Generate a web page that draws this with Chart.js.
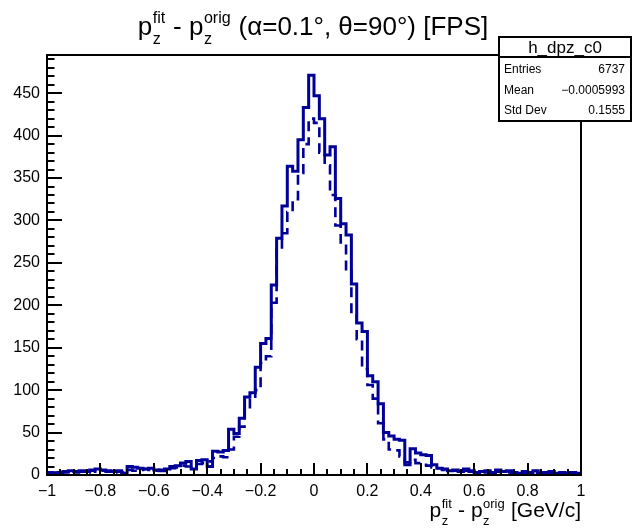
<!DOCTYPE html>
<html>
<head>
<meta charset="utf-8">
<title>h_dpz_c0</title>
<script src="https://cdn.jsdelivr.net/npm/chart.js@4.4.0/dist/chart.umd.min.js"></script>
<style>
  html, body { margin: 0; padding: 0; background: #ffffff; }
  #wrap { width: 635px; height: 529px; }
</style>
</head>
<body>
<div id="wrap"><canvas id="c" width="635" height="529"></canvas></div>
<script>
// Histogram binning: 100 bins over [-1, 1]
const binLow = -1;
const binWidth = 0.02;
const nBins = 100;

// Bin contents, solid histogram
const solidCounts = [
  3, 2, 3, 4, 5, 4, 5, 4, 6, 7,
  6, 5, 4, 5, 2, 10, 9, 8, 7, 8,
  6, 5, 7, 10, 11, 14, 16, 7, 17, 18,
  10, 28, 27, 29, 54, 49, 67, 92, 97, 127,
  155, 161, 224, 279, 317, 364, 358, 395, 433, 471,
  447, 420, 377, 387, 326, 296, 283, 225, 179, 169,
  117, 110, 84, 50, 46, 42, 41, 12, 31, 26,
  24, 23, 12, 8, 7, 5, 6, 4, 7, 5,
  3, 4, 5, 3, 6, 4, 5, 3, 2, 4,
  3, 5, 2, 3, 4, 2, 3, 2, 3, 2
];

// Bin contents, dashed histogram
const dashedCounts = [
  2, 3, 2, 3, 4, 3, 4, 3, 5, 4,
  5, 4, 3, 4, 3, 6, 5, 6, 7, 6,
  5, 6, 7, 8, 9, 11, 10, 12, 13, 14,
  16, 20, 22, 21, 30, 45, 57, 76, 90, 100,
  132, 140, 203, 265, 285, 310, 325, 356, 390, 420,
  415, 380, 365, 330, 294, 274, 240, 190, 160, 125,
  106, 90, 61, 42, 30, 29, 22, 15, 18, 14,
  12, 11, 9, 8, 6, 5, 5, 4, 5, 4,
  3, 4, 3, 3, 4, 3, 3, 2, 3, 2,
  3, 2, 2, 3, 2, 2, 1, 2, 2, 1
];

// Axis ticks and labels
const xTickValues = [-1, -0.8, -0.6, -0.4, -0.2, 0, 0.2, 0.4, 0.6, 0.8, 1];
const xTickLabels = ['\u22121', '\u22120.8', '\u22120.6', '\u22120.4', '\u22120.2', '0', '0.2', '0.4', '0.6', '0.8', '1'];
const yTickValues = [0, 50, 100, 150, 200, 250, 300, 350, 400, 450];
const yTickLabels = ['0', '50', '100', '150', '200', '250', '300', '350', '400', '450'];
const xMinorStep = 0.05;
const yMinorStep = 10;
const xRange = [-1, 1];
const yRange = [0, 495];

// Statistics box text
const statsTitle = 'h_dpz_c0';
const statsLabels = ['Entries', 'Mean', 'Std Dev'];
const statsValues = ['6737', '\u22120.0005993', '0.1555'];

// Titles (strings are plain text, objects are stacked sup/sub scripts)
const mainTitle = ['p', { sup: 'fit', sub: 'z' }, ' - p', { sup: 'orig', sub: 'z' }, ' (\u03b1=0.1\u00b0, \u03b8=90\u00b0) [FPS]'];
const xTitle = ['p', { sup: 'fit', sub: 'z' }, ' - p', { sup: 'orig', sub: 'z' }, ' [GeV/c]'];

const FAMILY = '"Liberation Sans", Arimo, Arial, Helvetica, sans-serif';
const lineColor = 'rgb(0, 0, 153)';

function stepPoints(counts) {
  const pts = [];
  for (let i = 0; i <= nBins; i++) {
    const edge = binLow + i * binWidth;
    pts.push({ x: edge, y: counts[Math.min(i, nBins - 1)] });
  }
  return pts;
}

function drawRich(ctx, parts, x, baseline, size, align) {
  const scriptSize = size * 0.62;
  const widths = parts.map(p => {
    if (typeof p === 'string') {
      ctx.font = size + 'px ' + FAMILY;
      return ctx.measureText(p).width;
    }
    ctx.font = scriptSize + 'px ' + FAMILY;
    return Math.max(ctx.measureText(p.sup).width, ctx.measureText(p.sub).width) + size * 0.04;
  });
  const total = widths.reduce((a, b) => a + b, 0);
  let cx = align === 'center' ? x - total / 2 : (align === 'right' ? x - total : x);
  ctx.textAlign = 'left';
  ctx.textBaseline = 'alphabetic';
  ctx.fillStyle = '#000';
  parts.forEach((p, i) => {
    if (typeof p === 'string') {
      ctx.font = size + 'px ' + FAMILY;
      ctx.fillText(p, cx, baseline);
    } else {
      ctx.font = scriptSize + 'px ' + FAMILY;
      ctx.fillText(p.sup, cx + size * 0.02, baseline - size * 0.45);
      ctx.fillText(p.sub, cx + size * 0.02, baseline + size * 0.36);
    }
    cx += widths[i];
  });
}

const decorPlugin = {
  id: 'decor',
  beforeDraw(chart) {
    const ctx = chart.ctx;
    ctx.save();
    ctx.fillStyle = '#ffffff';
    ctx.fillRect(0, 0, chart.width, chart.height);
    ctx.restore();
  },
  afterDatasetsDraw(chart) {
    const ctx = chart.ctx;
    const a = chart.chartArea;
    const xs = chart.scales.x, ys = chart.scales.y;
    ctx.save();
    ctx.strokeStyle = '#000';
    ctx.lineWidth = 2;
    ctx.lineCap = 'butt';

    // x-axis ticks, pointing up into the frame
    ctx.beginPath();
    const nx = Math.round((xRange[1] - xRange[0]) / xMinorStep);
    for (let i = 0; i <= nx; i++) {
      const v = xRange[0] + i * xMinorStep;
      const major = xTickValues.some(t => Math.abs(t - v) < 1e-9);
      const px = Math.round(xs.getPixelForValue(v));
      ctx.moveTo(px, a.bottom);
      ctx.lineTo(px, a.bottom - (major ? 12 : 6));
    }
    // y-axis ticks, pointing right into the frame
    for (let v = yRange[0]; v <= yRange[1]; v += yMinorStep) {
      const major = yTickValues.includes(v);
      const py = Math.round(ys.getPixelForValue(v));
      ctx.moveTo(a.left, py);
      ctx.lineTo(a.left + (major ? 15 : 7.5), py);
    }
    ctx.stroke();

    // frame
    ctx.strokeRect(a.left, a.top, a.right - a.left, a.bottom - a.top);

    // statistics box
    const bx = 499, by = 37, bw = 132, bh = 84, titleH = 20;
    ctx.fillStyle = '#fff';
    ctx.fillRect(bx, by, bw, bh);
    ctx.strokeRect(bx, by, bw, bh);
    ctx.beginPath();
    ctx.moveTo(bx, by + titleH);
    ctx.lineTo(bx + bw, by + titleH);
    ctx.stroke();
    ctx.fillStyle = '#000';
    ctx.font = '17px ' + FAMILY;
    ctx.textAlign = 'center';
    ctx.textBaseline = 'middle';
    ctx.fillText(statsTitle, bx + bw / 2, by + titleH / 2 + 1);
    ctx.font = '12px ' + FAMILY;
    const rowY = [by + 33, by + 54, by + 74];
    statsLabels.forEach((lab, i) => {
      ctx.textAlign = 'left';
      ctx.fillText(lab, bx + 5, rowY[i]);
      ctx.textAlign = 'right';
      ctx.fillText(statsValues[i], bx + bw - 6, rowY[i]);
    });

    // titles
    drawRich(ctx, mainTitle, 313, 35, 26, 'center');
    drawRich(ctx, xTitle, a.right, 517, 21, 'right');
    ctx.restore();
  }
};

new Chart(document.getElementById('c').getContext('2d'), {
  type: 'line',
  data: {
    datasets: [
      {
        data: stepPoints(solidCounts),
        borderColor: lineColor,
        borderWidth: 3,
        stepped: 'before',
        pointRadius: 0,
        fill: false,
        borderJoinStyle: 'miter'
      },
      {
        data: stepPoints(dashedCounts),
        borderColor: lineColor,
        borderWidth: 2.6,
        borderDash: [10, 6],
        stepped: 'before',
        pointRadius: 0,
        fill: false,
        borderJoinStyle: 'miter'
      }
    ]
  },
  options: {
    responsive: false,
    animation: false,
    devicePixelRatio: 1,
    layout: { padding: { top: 55, right: 54, left: 0, bottom: 0 } },
    plugins: { legend: { display: false }, tooltip: { enabled: false } },
    scales: {
      x: {
        type: 'linear',
        min: xRange[0],
        max: xRange[1],
        grid: { display: false, drawTicks: false },
        border: { display: false },
        afterBuildTicks(s) { s.ticks = xTickValues.map(v => ({ value: v })); },
        afterFit(s) { s.height = 54; },
        ticks: {
          autoSkip: false,
          maxRotation: 0,
          padding: 7,
          color: '#000',
          font: { family: FAMILY, size: 16 },
          callback: (v, i) => xTickLabels[i]
        }
      },
      y: {
        type: 'linear',
        min: yRange[0],
        max: yRange[1],
        grid: { display: false, drawTicks: false },
        border: { display: false },
        afterBuildTicks(s) { s.ticks = yTickValues.map(v => ({ value: v })); },
        afterFit(s) { s.width = 47; },
        ticks: {
          autoSkip: false,
          padding: 7,
          color: '#000',
          font: { family: FAMILY, size: 16 },
          callback: (v, i) => yTickLabels[i]
        }
      }
    }
  },
  plugins: [decorPlugin]
});
</script>
</body>
</html>
